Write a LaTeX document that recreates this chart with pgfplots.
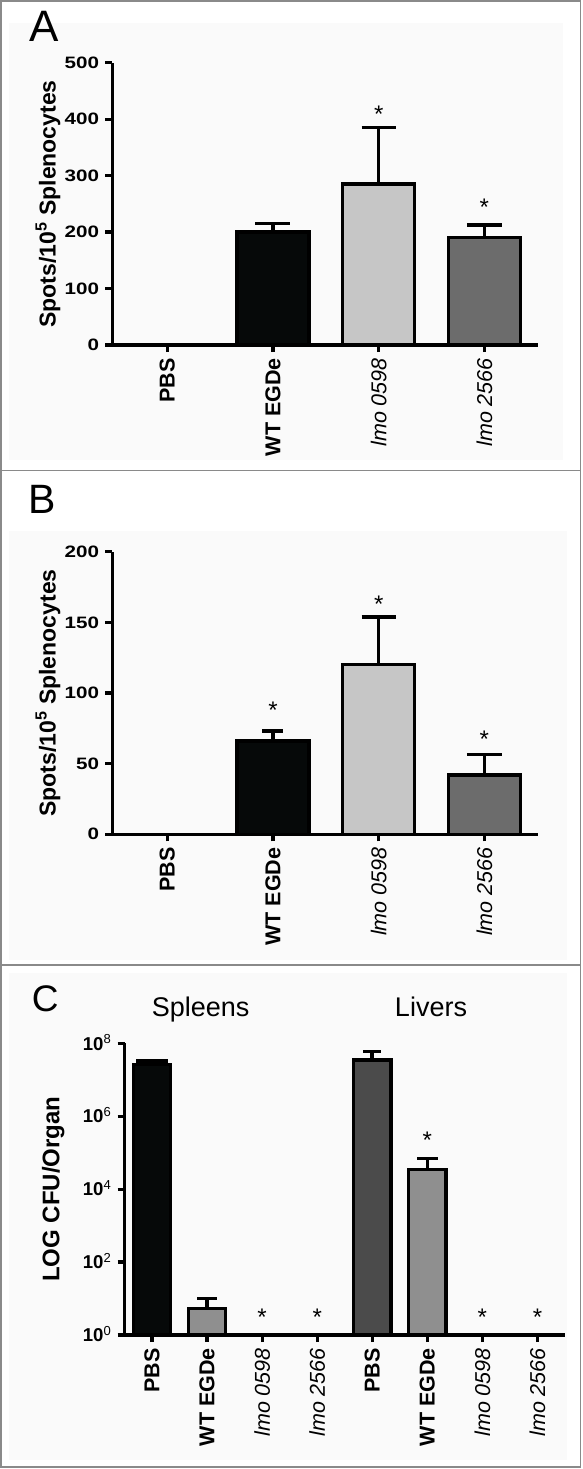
\documentclass[border=0pt]{standalone}
\usepackage{pgfplots}
\pgfplotsset{compat=1.18}
\usepackage{fontspec}
\setmainfont{Liberation Sans}
\newfontfamily\wideff{Liberation Sans}[FakeStretch=1.25]
\definecolor{cblack}{HTML}{060909}
\definecolor{clight}{HTML}{C6C6C6}
\definecolor{cdark}{HTML}{6C6C6C}
\definecolor{cmid}{HTML}{8F8F8F}
\definecolor{cliver}{HTML}{4B4B4B}
\definecolor{framec}{HTML}{8A8A8A}
\definecolor{bgc}{HTML}{FAFAFA}
\newcommand{\fs}[1]{\fontsize{#1}{#1}\selectfont}
\pgfplotsset{
  panel/.style={
    scale only axis,
    anchor=south west,
    axis x line=bottom, axis y line=left,
    axis line style={-, line width=3.3pt, black},
    tick style={line width=3.3pt, black},
    tick align=outside,
    major tick length=7pt,
    enlargelimits=false,
    clip=false,
    /pgf/number format/assume math mode=true,
    yticklabel style={font=\wideff\fs{16.5}\bfseries, inner sep=0pt},
    yticklabel shift=6pt,
    xticklabel style={font=\fs{21.5}, rotate=90, anchor=east, inner sep=0pt},
    xticklabel shift=6pt,
    ylabel style={font=\fs{23}\bfseries, anchor=center},
  },
  mybar/.style n args={3}{ybar, bar shift=0pt, bar width=0.68, fill=#1, draw=black, line width=3.3pt,
    error bars/.cd, y dir=plus, y explicit,
    error bar style={line width=3.6pt, black},
    error mark options={rotate=90, mark size=#2pt, line width=3.6pt, black}},
  stars/.style={draw=none, mark=none, nodes near coords={*},
    nodes near coords style={anchor=base, yshift=-14pt, font=\fs{24}, inner sep=0pt, text=black}},
}
\begin{document}
\begin{tikzpicture}
\useasboundingbox (0pt,0pt) rectangle (582pt,-1469pt);
\fill[bgc] (9pt,-23pt) rectangle (563pt,-460pt);
\fill[bgc] (9pt,-531pt) rectangle (567pt,-960pt);
\fill[bgc] (9pt,-973pt) rectangle (567pt,-1460pt);
\draw[framec, line width=1.2pt] (1pt,-1pt) rectangle (580.5pt,-1467pt);
\draw[framec, line width=1.2pt] (1pt,-470.5pt) -- (580.5pt,-470.5pt);
\draw[framec, line width=1.2pt] (1pt,-965pt) -- (580.5pt,-965pt);
\node[anchor=base west, inner sep=0pt, font=\fs{44}] at (29.7pt,-41.7pt) {A};
\node[anchor=base west, inner sep=0pt, font=\fs{41}] at (28pt,-513pt) {B};
\node[anchor=base west, inner sep=0pt, font=\fs{37}] at (31.7pt,-1011.5pt) {C};
\node[anchor=base, inner sep=0pt, font=\fs{27}] at (200.7pt,-1016.5pt) {Spleens};
\node[anchor=base, inner sep=0pt, font=\fs{27}] at (431pt,-1016.5pt) {Livers};

% Panel A
\begin{axis}[panel, at={(112.3pt,-345pt)}, width=426pt, height=282.3pt,
  xmin=-0.52, xmax=3.51, ymin=0, ymax=500, ytick={0,100,200,300,400,500},
  xtick={0,1,2,3},
  xticklabels={\bfseries PBS, \bfseries WT EGDe, \itshape lmo 0598, \itshape lmo 2566},
  ylabel={Spots/10\textsuperscript{5} Splenocytes},
  ylabel style={at={(axis description cs:-0.151,0.5)}}]
\addplot[mybar={cblack}{10}{}] coordinates {(0,1.5)};
\addplot[mybar={cblack}{17.5}{}] coordinates {(1,200) +- (0,15)};
\addplot[mybar={clight}{17}{}] coordinates {(2,285) +- (0,100)};
\addplot[mybar={cdark}{17.5}{}] coordinates {(3,190) +- (0,23)};
\addplot[stars] coordinates {(2,419) (3,254)};
\end{axis}

% Panel B
\begin{axis}[panel, at={(112.3pt,-834.3pt)}, width=426pt, height=282.6pt,
  xmin=-0.52, xmax=3.51, ymin=0, ymax=200, ytick={0,50,100,150,200},
  xtick={0,1,2,3},
  xticklabels={\bfseries PBS, \bfseries WT EGDe, \itshape lmo 0598, \itshape lmo 2566},
  ylabel={Spots/10\textsuperscript{5} Splenocytes},
  ylabel style={at={(axis description cs:-0.151,0.5)}}]
\addplot[mybar={cblack}{10.5}{}] coordinates {(1,66) +- (0,7)};
\addplot[mybar={clight}{17}{}] coordinates {(2,120) +- (0,34)};
\addplot[mybar={cdark}{17.5}{}] coordinates {(3,42) +- (0,14.5)};
\addplot[stars] coordinates {(1,92) (2,167) (3,71)};
\end{axis}

% Panel C
\begin{axis}[panel, at={(124.5pt,-1335pt)}, width=440.5pt, height=291.7pt,
  ymode=log, log basis y=10, ymin=1, ymax=1e8, yminorticks=false,
  ytick={1,100,10000,1000000,100000000},
  yticklabels={{\bfseries 10}\textsuperscript{0},{\bfseries 10}\textsuperscript{2},{\bfseries 10}\textsuperscript{4},{\bfseries 10}\textsuperscript{6},{\bfseries 10}\textsuperscript{8}},
  yticklabel style={font=\fs{18.6}, anchor=base east, yshift=-6.7pt},
  xmin=-0.5, xmax=7.5, xtick={0,1,2,3,4,5,6,7},
  xticklabels={\bfseries PBS, \bfseries WT EGDe, \itshape lmo 0598, \itshape lmo 2566, \bfseries PBS, \bfseries WT EGDe, \itshape lmo 0598, \itshape lmo 2566},
  ylabel={LOG CFU/Organ},
  ylabel style={font=\fs{24}\bfseries, at={(axis description cs:-0.162,0.5)}}]
\addplot[mybar={cblack}{16}{}] coordinates {(0,2.65e7) +- (0,0.62e7)};
\addplot[mybar={cmid}{10}{}] coordinates {(1,5.4) +- (0,4.6)};
\addplot[mybar={cliver}{9}{}] coordinates {(4,3.5e7) +- (0,2.4e7)};
\addplot[mybar={cmid}{10.3}{}] coordinates {(5,3.5e4) +- (0,3.5e4)};
\addplot[stars] coordinates {(2,4.4) (3,4.4) (5,3.2e5) (6,4.4) (7,4.4)};
\end{axis}
\end{tikzpicture}
\end{document}
